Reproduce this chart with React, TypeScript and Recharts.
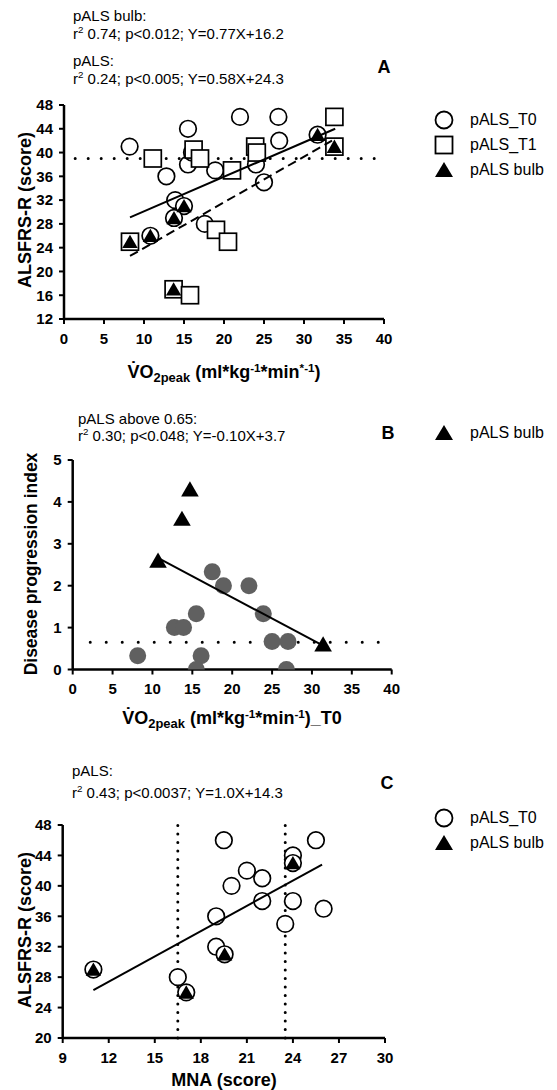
import React from 'react';
import { ScatterChart, Scatter, XAxis, YAxis, ReferenceLine } from 'recharts';

const FONT = '"Liberation Sans", Arial, Helvetica, sans-serif';

// Panel A: ALSFRS-R vs VO2peak
const aT0 = [
  { x: 8.2, y: 41 }, { x: 12.8, y: 36 }, { x: 15.5, y: 44 }, { x: 15.5, y: 38 }, { x: 16, y: 40 },
  { x: 13.9, y: 32 }, { x: 15, y: 31 }, { x: 13.75, y: 29 }, { x: 10.8, y: 26 }, { x: 17.6, y: 28 },
  { x: 18.9, y: 37 }, { x: 22, y: 46 }, { x: 26.8, y: 46 }, { x: 26.9, y: 42 }, { x: 24, y: 38 },
  { x: 25, y: 35 }, { x: 31.7, y: 43 },
];
const aT1 = [
  { x: 8.25, y: 25 }, { x: 11.1, y: 39 }, { x: 16.2, y: 40.5 }, { x: 17, y: 39 }, { x: 21, y: 37 },
  { x: 23.9, y: 41 }, { x: 24.1, y: 40 }, { x: 19, y: 27 }, { x: 20.5, y: 25 }, { x: 13.7, y: 17 },
  { x: 15.75, y: 16 }, { x: 33.8, y: 46 }, { x: 33.8, y: 41 },
];
const aBulb = [
  { x: 8.25, y: 25 }, { x: 10.8, y: 26 }, { x: 13.75, y: 29 }, { x: 15, y: 31 },
  { x: 13.7, y: 17 }, { x: 31.7, y: 43 }, { x: 33.8, y: 41 },
];
const aFitAll = [{ x: 8.25, y: 29.1 }, { x: 33.9, y: 44 }];
const aFitBulb = [{ x: 8.25, y: 22.6 }, { x: 33.5, y: 42 }];
const aXTicks = [0, 5, 10, 15, 20, 25, 30, 35, 40];
const aYTicks = [12, 16, 20, 24, 28, 32, 36, 40, 44, 48];
const aCut = 39;

// Panel B: disease progression index vs VO2peak T0
const bOthers = [
  { x: 8.15, y: 0.33 }, { x: 12.75, y: 1 }, { x: 13.9, y: 1 }, { x: 15.5, y: 1.33 }, { x: 16.1, y: 0.33 },
  { x: 15.5, y: 0 }, { x: 17.5, y: 2.33 }, { x: 18.9, y: 2 }, { x: 22.1, y: 2 }, { x: 23.9, y: 1.33 },
  { x: 25, y: 0.67 }, { x: 27, y: 0.67 }, { x: 26.8, y: 0 },
];
const bBulb = [{ x: 14.7, y: 4.3 }, { x: 13.7, y: 3.6 }, { x: 10.7, y: 2.6 }, { x: 31.4, y: 0.6 }];
const bFit = [{ x: 10.8, y: 2.65 }, { x: 31.4, y: 0.57 }];
const bXTicks = [0, 5, 10, 15, 20, 25, 30, 35, 40];
const bYTicks = [0, 1, 2, 3, 4, 5];
const bCut = 0.65;

// Panel C: ALSFRS-R vs MNA
const cT0 = [
  { x: 11, y: 29 }, { x: 16.5, y: 28 }, { x: 17.05, y: 26 }, { x: 19, y: 36 }, { x: 19, y: 32 },
  { x: 19.55, y: 31 }, { x: 19.5, y: 46 }, { x: 20, y: 40 }, { x: 21, y: 42 }, { x: 22, y: 41 },
  { x: 22, y: 38 }, { x: 23.5, y: 35 }, { x: 24, y: 44 }, { x: 24, y: 43 }, { x: 24, y: 38 },
  { x: 25.5, y: 46 }, { x: 26, y: 37 },
];
const cBulb = [{ x: 11, y: 29 }, { x: 17.05, y: 26 }, { x: 19.55, y: 31 }, { x: 24, y: 43 }];
const cFit = [{ x: 11, y: 26.3 }, { x: 25.9, y: 42.8 }];
const cXTicks = [9, 12, 15, 18, 21, 24, 27, 30];
const cYTicks = [20, 24, 28, 32, 36, 40, 44, 48];
const cCuts = [16.5, 23.5];

const tickStyle = { fontFamily: FONT, fontSize: 15, fontWeight: 700, fill: '#000' };
const axisLine = { stroke: '#000', strokeWidth: 2.5 };
const tickLine = { stroke: '#000', strokeWidth: 2 };

const OpenCircle = (p: any) => <circle cx={p.cx} cy={p.cy} r={8.3} fill="#fff" stroke="#000" strokeWidth={1.7} />;
const OpenSquare = (p: any) => <rect x={p.cx - 8.5} y={p.cy - 8.5} width={17} height={17} fill="#fff" stroke="#000" strokeWidth={1.7} />;
const GreyDot = (p: any) => <circle cx={p.cx} cy={p.cy} r={8.5} fill="#606060" />;
const tri = (s: number) => (p: any) => (
  <polygon points={`${p.cx},${p.cy - s * 0.5} ${p.cx - s * 0.55},${p.cy + s * 0.45} ${p.cx + s * 0.55},${p.cy + s * 0.45}`} fill="#000" />
);
const NoDot = () => <g />;

const T = ({ x, y, size = 15, bold = false, center = false, children }: any) => (
  <div style={{
    position: 'absolute', left: x, top: y - size * 0.5, fontSize: size, lineHeight: `${size}px`,
    fontWeight: bold ? 700 : 400, whiteSpace: 'nowrap', transform: center ? 'translateX(-50%)' : undefined,
  }}>{children}</div>
);

const VT = ({ x, y, size = 18, children }: any) => (
  <div style={{
    position: 'absolute', left: x, top: y, fontSize: size, lineHeight: `${size}px`, fontWeight: 700,
    whiteSpace: 'nowrap', transform: 'translate(-50%, -50%) rotate(-90deg)',
  }}>{children}</div>
);

const Sup = ({ children }: any) => <span style={{ fontSize: '0.65em', position: 'relative', top: '-0.55em' }}>{children}</span>;
const Sub = ({ children }: any) => <span style={{ fontSize: '0.72em', position: 'relative', top: '0.3em' }}>{children}</span>;

const LegendRow = ({ y, kind, label }: any) => (
  <>
    <svg style={{ position: 'absolute', left: 434, top: y - 10 }} width={20} height={20}>
      {kind === 'circle' && <circle cx={10} cy={10} r={8.5} fill="#fff" stroke="#000" strokeWidth={1.8} />}
      {kind === 'square' && <rect x={1.5} y={1.5} width={17} height={17} fill="#fff" stroke="#000" strokeWidth={1.8} />}
      {kind === 'tri' && <polygon points="10,2 1,17 19,17" fill="#000" />}
    </svg>
    <T x={470} y={y} size={16}>{label}</T>
  </>
);

const dotted = { stroke: '#000', strokeWidth: 3, strokeLinecap: 'round' as const };

export default function App() {
  return (
    <div style={{ position: 'absolute', left: 0, top: 0, width: 557, height: 1090, background: '#fff', fontFamily: FONT, color: '#000', overflow: 'hidden' }}>
      {/* Panel A */}
      <T x={73} y={15}>pALS bulb:</T>
      <T x={73} y={33}>r<Sup>2</Sup> 0.74; p&lt;0.012; Y=0.77X+16.2</T>
      <T x={73} y={60}>pALS:</T>
      <T x={73} y={78}>r<Sup>2</Sup> 0.24; p&lt;0.005; Y=0.58X+24.3</T>
      <T x={384} y={67} size={18} bold center>A</T>
      <div style={{ position: 'absolute', left: 0, top: 90 }}>
        <ScatterChart width={557} height={300} margin={{ top: 15, right: 173, bottom: 41, left: 20 }}>
          <XAxis type="number" dataKey="x" domain={[0, 40]} ticks={aXTicks} interval={0} tick={tickStyle} tickSize={5} tickMargin={9} axisLine={axisLine} tickLine={tickLine} allowDataOverflow />
          <YAxis type="number" dataKey="y" domain={[12, 48]} ticks={aYTicks} interval={0} tick={tickStyle} tickSize={5} tickMargin={6} width={44} axisLine={axisLine} tickLine={tickLine} allowDataOverflow />
          <ReferenceLine segment={[{ x: 1.4, y: aCut }, { x: 40, y: aCut }]} {...dotted} strokeDasharray="0 13" />
          <Scatter data={aT0} shape={OpenCircle} isAnimationActive={false} />
          <Scatter data={aT1} shape={OpenSquare} isAnimationActive={false} />
          <Scatter data={aBulb} shape={tri(14)} isAnimationActive={false} />
          <Scatter data={aFitAll} shape={NoDot} line={{ stroke: '#000', strokeWidth: 2 }} isAnimationActive={false} />
          <Scatter data={aFitBulb} shape={NoDot} line={{ stroke: '#000', strokeWidth: 2, strokeDasharray: '9 5' }} isAnimationActive={false} />
        </ScatterChart>
      </div>
      <VT x={25} y={210}>ALSFRS-R (score)</VT>
      <T x={224} y={372} size={18} bold center>V&#775;O<Sub>2peak</Sub> (ml*kg<Sup>-1</Sup>*min<Sup>*-1</Sup>)</T>
      <LegendRow y={120} kind="circle" label="pALS_T0" />
      <LegendRow y={145} kind="square" label="pALS_T1" />
      <LegendRow y={170} kind="tri" label="pALS bulb" />

      {/* Panel B */}
      <T x={78} y={418}>pALS above 0.65:</T>
      <T x={78} y={435}>r<Sup>2</Sup> 0.30; p&lt;0.048; Y=-0.10X+3.7</T>
      <T x={388} y={433} size={18} bold center>B</T>
      <div style={{ position: 'absolute', left: 0, top: 440 }}>
        <ScatterChart width={557} height={300} margin={{ top: 20, right: 165.3, bottom: 40.5, left: 28.7 }}>
          <XAxis type="number" dataKey="x" domain={[0, 40]} ticks={bXTicks} interval={0} tick={tickStyle} tickSize={5} tickMargin={9} axisLine={axisLine} tickLine={tickLine} allowDataOverflow />
          <YAxis type="number" dataKey="y" domain={[0, 5]} ticks={bYTicks} interval={0} tick={tickStyle} tickSize={5} tickMargin={6} width={44} axisLine={axisLine} tickLine={tickLine} allowDataOverflow />
          <ReferenceLine segment={[{ x: 2.2, y: bCut }, { x: 40, y: bCut }]} {...dotted} strokeDasharray="0 16" />
          <Scatter data={bOthers} shape={GreyDot} isAnimationActive={false} />
          <Scatter data={bBulb} shape={tri(16)} isAnimationActive={false} />
          <Scatter data={bFit} shape={NoDot} line={{ stroke: '#000', strokeWidth: 2 }} isAnimationActive={false} />
        </ScatterChart>
      </div>
      <VT x={32} y={564} size={17.5}>Disease progression index</VT>
      <T x={232} y={718} size={18} bold center>V&#775;O<Sub>2peak</Sub> (ml*kg<Sup>-1</Sup>*min<Sup>-1</Sup>)_T0</T>
      <LegendRow y={433} kind="tri" label="pALS bulb" />

      {/* Panel C */}
      <T x={72} y={770}>pALS:</T>
      <T x={72} y={792}>r<Sup>2</Sup> 0.43; p&lt;0.0037; Y=1.0X+14.3</T>
      <T x={387} y={783} size={18} bold center>C</T>
      <div style={{ position: 'absolute', left: 0, top: 810 }}>
        <ScatterChart width={557} height={280} margin={{ top: 15, right: 172, bottom: 22, left: 18.7 }}>
          <XAxis type="number" dataKey="x" domain={[9, 30]} ticks={cXTicks} interval={0} tick={tickStyle} tickSize={5} tickMargin={9} axisLine={axisLine} tickLine={tickLine} allowDataOverflow />
          <YAxis type="number" dataKey="y" domain={[20, 48]} ticks={cYTicks} interval={0} tick={tickStyle} tickSize={5} tickMargin={6} width={44} axisLine={axisLine} tickLine={tickLine} allowDataOverflow />
          {cCuts.map((c) => (
            <ReferenceLine key={c} x={c} {...dotted} strokeDasharray="0 8.5" />
          ))}
          <Scatter data={cT0} shape={OpenCircle} isAnimationActive={false} />
          <Scatter data={cBulb} shape={tri(14)} isAnimationActive={false} />
          <Scatter data={cFit} shape={NoDot} line={{ stroke: '#000', strokeWidth: 2 }} isAnimationActive={false} />
        </ScatterChart>
      </div>
      <VT x={25} y={930}>ALSFRS-R (score)</VT>
      <T x={224} y={1080} size={18} bold center>MNA (score)</T>
      <LegendRow y={818} kind="circle" label="pALS_T0" />
      <LegendRow y={843} kind="tri" label="pALS bulb" />
    </div>
  );
}
